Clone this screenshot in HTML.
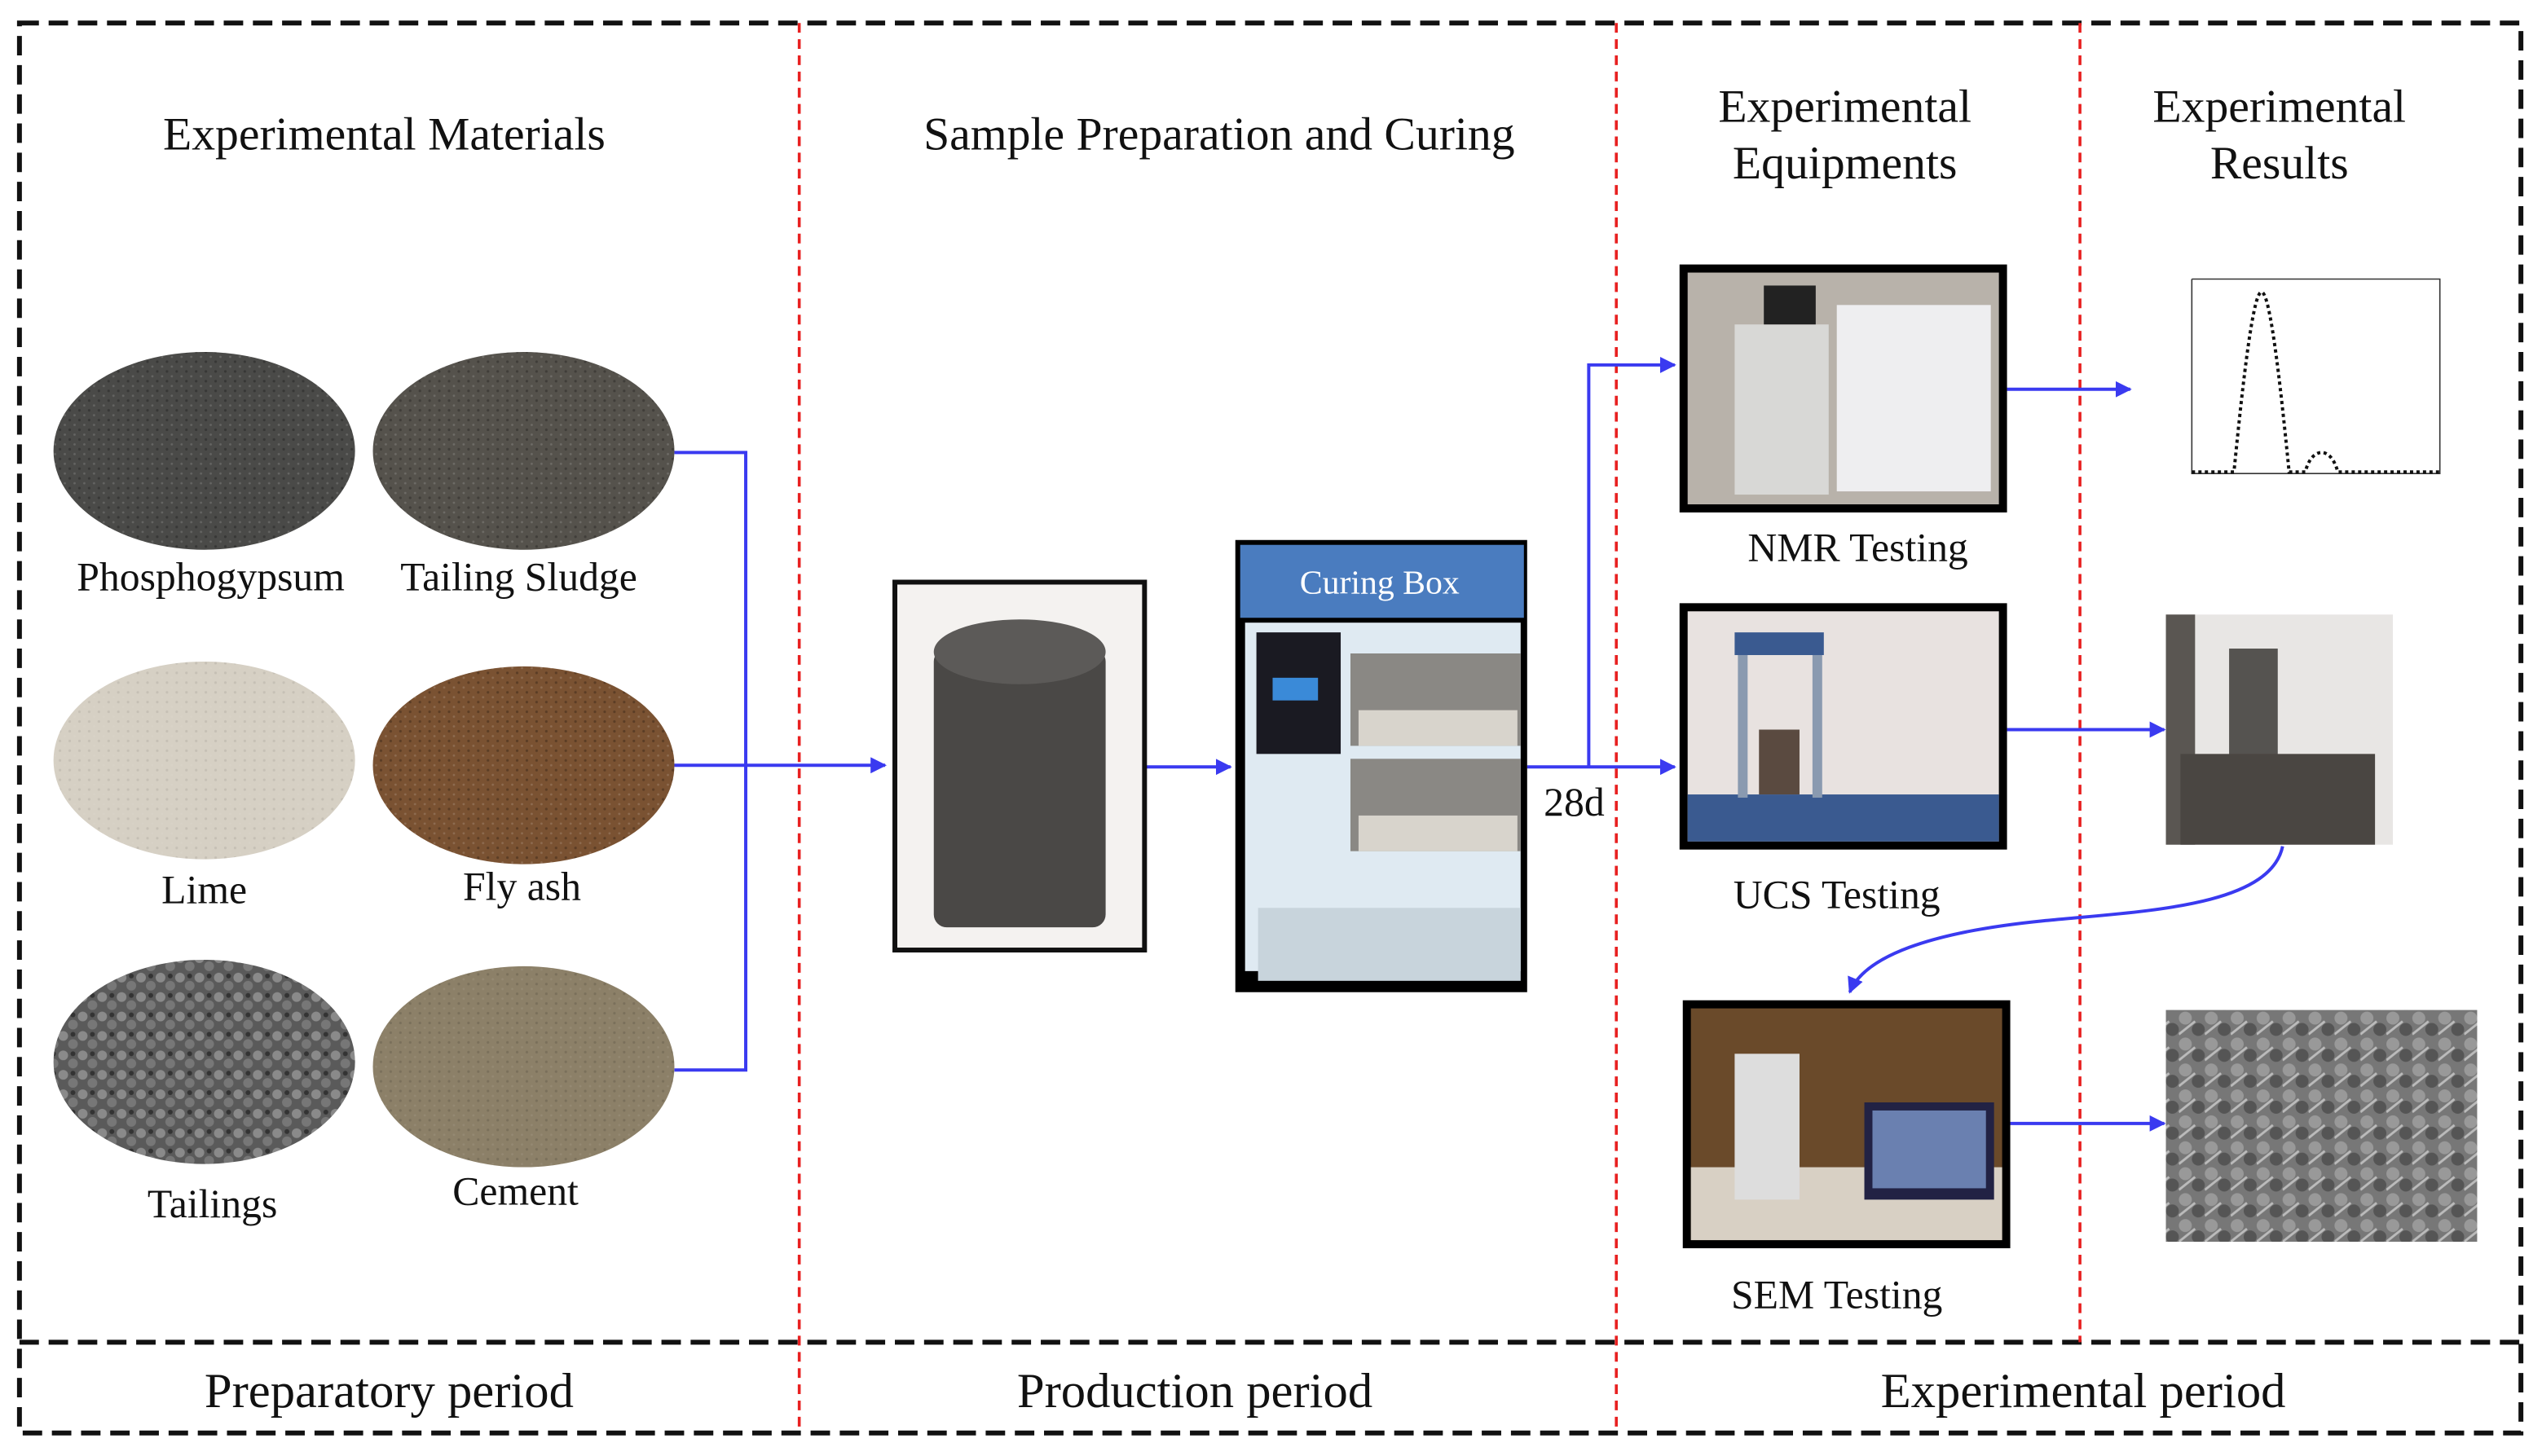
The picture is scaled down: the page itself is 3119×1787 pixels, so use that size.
<!DOCTYPE html>
<html><head><meta charset="utf-8"><style>
html,body{margin:0;padding:0;background:#fff}
svg{display:block}
text{font-family:"Liberation Serif",serif;fill:#111}
</style></head><body>
<svg width="3119" height="1787" viewBox="0 0 1568 898" xmlns="http://www.w3.org/2000/svg">
<defs>
<marker id="ar" markerWidth="10" markerHeight="10" refX="9" refY="5" orient="auto" markerUnits="userSpaceOnUse"><path d="M0,0 L10,5 L0,10 z" fill="#3a3af0"/></marker>
<pattern id="grain" width="6" height="6" patternUnits="userSpaceOnUse"><rect width="6" height="6" fill="none"/><circle cx="1" cy="1" r="0.8" fill="#000" opacity=".25"/><circle cx="4" cy="4" r="0.7" fill="#fff" opacity=".15"/></pattern>
<pattern id="pebble" width="12" height="12" patternUnits="userSpaceOnUse"><rect width="12" height="12" fill="#5a5a5a"/><circle cx="3" cy="3" r="3" fill="#8a8a8a"/><circle cx="9" cy="8" r="3" fill="#777"/><circle cx="9" cy="2" r="1.5" fill="#333"/></pattern>
<pattern id="sem" width="16" height="16" patternUnits="userSpaceOnUse"><rect width="16" height="16" fill="#777"/><circle cx="4" cy="4" r="4" fill="#999"/><circle cx="12" cy="11" r="4" fill="#555"/><path d="M0,14 L10,6" stroke="#bbb" stroke-width="1.5"/></pattern>
</defs>
<rect width="1568" height="898" fill="#fff"/>
<rect x="12" y="14" width="1543" height="870" fill="none" stroke="#111" stroke-width="3" stroke-dasharray="12,6"/>
<line x1="12" y1="828" x2="1555" y2="828" stroke="#111" stroke-width="3" stroke-dasharray="12,6"/>
<g stroke="#e82020" stroke-width="1.8" stroke-dasharray="6,4">
<line x1="493" y1="14" x2="493" y2="884"/><line x1="997" y1="14" x2="997" y2="884"/><line x1="1283" y1="14" x2="1283" y2="828"/>
</g>
<g font-size="29" text-anchor="middle">
<text x="237" y="92">Experimental Materials</text>
<text x="752" y="92">Sample Preparation and Curing</text>
<text x="1138" y="75">Experimental</text><text x="1138" y="110">Equipments</text>
<text x="1406" y="75">Experimental</text><text x="1406" y="110">Results</text>
</g>
<g font-size="30.5" text-anchor="middle">
<text x="240" y="868">Preparatory period</text>
<text x="737" y="868">Production period</text>
<text x="1285" y="868">Experimental period</text>
</g>
<ellipse cx="126" cy="278" rx="93" ry="61" fill="#4a4a48"/><ellipse cx="126" cy="278" rx="93" ry="61" fill="url(#grain)"/>
<ellipse cx="323" cy="278" rx="93" ry="61" fill="#55524c"/><ellipse cx="323" cy="278" rx="93" ry="61" fill="url(#grain)"/>
<ellipse cx="126" cy="469" rx="93" ry="61" fill="#d6d0c4"/><ellipse cx="126" cy="469" rx="93" ry="61" fill="url(#grain)" opacity=".3"/>
<ellipse cx="323" cy="472" rx="93" ry="61" fill="#7a5232"/><ellipse cx="323" cy="472" rx="93" ry="61" fill="url(#grain)"/>
<ellipse cx="126" cy="655" rx="93" ry="63" fill="url(#pebble)"/>
<ellipse cx="323" cy="658" rx="93" ry="62" fill="#8c8068"/><ellipse cx="323" cy="658" rx="93" ry="62" fill="url(#grain)" opacity=".5"/>
<g font-size="25" text-anchor="middle">
<text x="130" y="364">Phosphogypsum</text><text x="320" y="364">Tailing Sludge</text>
<text x="126" y="557">Lime</text><text x="322" y="555">Fly ash</text>
<text x="131" y="751">Tailings</text><text x="318" y="743">Cement</text>
<text x="1146" y="346">NMR Testing</text><text x="1133" y="560">UCS Testing</text><text x="1133" y="807">SEM Testing</text>
<text x="971" y="503">28d</text>
</g>
<g stroke="#3a3af0" stroke-width="2" fill="none">
<polyline points="416,279 460,279 460,660 416,660"/>
<line x1="416" y1="472" x2="546" y2="472" marker-end="url(#ar)"/>
<line x1="706" y1="473" x2="759" y2="473" marker-end="url(#ar)"/>
<line x1="942" y1="473" x2="1033" y2="473" marker-end="url(#ar)"/>
<polyline points="980,473 980,225 1033,225" marker-end="url(#ar)"/>
<line x1="1238" y1="240" x2="1314" y2="240" marker-end="url(#ar)"/>
<line x1="1238" y1="450" x2="1335" y2="450" marker-end="url(#ar)"/>
<line x1="1240" y1="693" x2="1335" y2="693" marker-end="url(#ar)"/>
<path d="M1408,522 C1400,560 1320,562 1260,568 C1190,575 1150,590 1141,612" marker-end="url(#ar)"/>
</g>
<rect x="552" y="359" width="154" height="227" fill="#f4f2f0" stroke="#111" stroke-width="3"/>
<rect x="576" y="400" width="106" height="172" rx="8" fill="#4a4846"/>
<ellipse cx="629" cy="402" rx="53" ry="20" fill="#5c5a58"/>
<rect x="762" y="333" width="180" height="279" fill="#000"/>
<rect x="765" y="336" width="175" height="45" fill="#4a7cbf"/>
<text x="851" y="366" font-size="21" text-anchor="middle" style="fill:#fff">Curing Box</text>
<rect x="768" y="384" width="170" height="215" fill="#dfeaf2"/>
<rect x="775" y="390" width="52" height="75" fill="#1a1a22"/>
<rect x="785" y="418" width="28" height="14" fill="#3a8ad8"/>
<rect x="833" y="403" width="105" height="57" fill="#8a8884"/>
<rect x="833" y="468" width="105" height="57" fill="#8a8884"/>
<rect x="838" y="438" width="98" height="22" fill="#d8d4cc"/>
<rect x="838" y="503" width="98" height="22" fill="#d8d4cc"/>
<rect x="776" y="560" width="162" height="45" fill="#c8d4dc"/>
<rect x="1036" y="163" width="202" height="153" fill="#000"/>
<rect x="1041" y="168" width="192" height="143" fill="#b8b2aa"/>
<rect x="1070" y="200" width="58" height="105" fill="#d8d8d6"/><rect x="1133" y="188" width="95" height="115" fill="#eeeef0"/>
<rect x="1088" y="176" width="32" height="24" fill="#222"/>
<rect x="1036" y="372" width="202" height="152" fill="#000"/>
<rect x="1041" y="377" width="192" height="142" fill="#e8e2e0"/>
<rect x="1041" y="490" width="192" height="29" fill="#3a5a90"/>
<rect x="1070" y="390" width="55" height="14" fill="#3a5a90"/><rect x="1072" y="404" width="6" height="88" fill="#8a9ab0"/><rect x="1118" y="404" width="6" height="88" fill="#8a9ab0"/>
<rect x="1085" y="450" width="25" height="40" fill="#5a4a40"/>
<rect x="1038" y="617" width="202" height="153" fill="#000"/>
<rect x="1043" y="622" width="192" height="143" fill="#6a4a2a"/>
<rect x="1043" y="720" width="192" height="45" fill="#d8d0c4"/>
<rect x="1150" y="680" width="80" height="60" fill="#224"/><rect x="1155" y="685" width="70" height="48" fill="#6a80b0"/>
<rect x="1070" y="650" width="40" height="90" fill="#ddd"/>
<rect x="1340" y="170" width="168" height="130" fill="#fff"/>
<polyline points="1352,172 1352,292 1505,292 1505,172 1352,172" fill="none" stroke="#333" stroke-width="0.8"/>
<path d="M1352,291 L1378,291 C1384,230 1390,180 1395,180 C1400,180 1406,230 1412,291 L1422,291 C1426,275 1438,275 1442,291 L1505,291" fill="none" stroke="#111" stroke-width="2" stroke-dasharray="2,2"/>
<rect x="1336" y="379" width="140" height="142" fill="#e8e6e4"/>
<rect x="1336" y="379" width="18" height="142" fill="#5a5652"/>
<rect x="1375" y="400" width="30" height="80" fill="#555350"/>
<rect x="1345" y="465" width="120" height="56" fill="#4a4642"/>
<rect x="1336" y="623" width="192" height="143" fill="url(#sem)"/>
</svg>
</body></html>
